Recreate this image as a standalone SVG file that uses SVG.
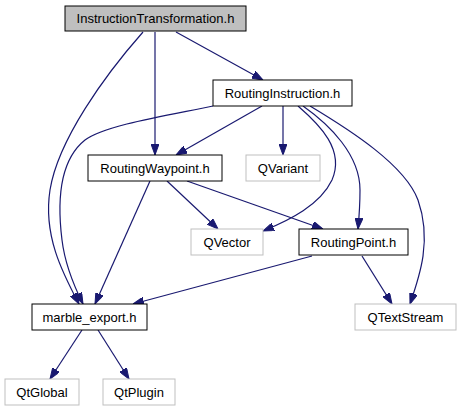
<svg xmlns="http://www.w3.org/2000/svg" width="461" height="411" viewBox="0 0 461 411">
<style>
.n rect{fill:#fff;stroke:#000;stroke-width:1}
.n.cur rect{fill:#bfbfbf}
.n.ext rect{stroke:#bfbfbf}
.n text{font-family:"Liberation Sans",Arial,sans-serif;font-size:13px;fill:#000;text-anchor:middle}
.e path{fill:none;stroke:#191970;stroke-width:1.2;marker-end:url(#ah)}
</style>
<defs>
<marker id="ah" viewBox="0 0 11 8" refX="11" refY="4" markerWidth="11" markerHeight="8" markerUnits="userSpaceOnUse" orient="auto">
<path d="M0,0 L11,4 L0,8 z" fill="#191970" stroke="#191970" stroke-width="1"/>
</marker>
</defs>
<rect width="461" height="411" fill="#fff"/>
<g id="edges" class="e">
<path d="M143,32 C105,75 58,140 50,190 C43,235 62,272 79,304"/>
<path d="M155,32 L155,155"/>
<path d="M176,32 L263,80"/>
<path d="M213,106 C170,115 105,125 85,140 C60,160 57,200 62,240 C65,265 74,286 83,304"/>
<path d="M262,106 L176,155"/>
<path d="M283,106 L283,155"/>
<path d="M298,106 C320,125 345,150 332,180 C320,205 290,220 263,231"/>
<path d="M303,106 C330,125 360,155 360,190 C360,205 359,218 358,229"/>
<path d="M310,106 C350,130 405,165 418,200 C432,240 420,275 410,304"/>
<path d="M150,181 L95,304"/>
<path d="M167,181 L218,229"/>
<path d="M187,181 L323,229"/>
<path d="M312,256 L133,304"/>
<path d="M362,256 L392,304"/>
<path d="M82,330 L50,379"/>
<path d="M98,330 L129,379"/>
</g>
<g id="InstructionTransformation" class="n cur"><rect x="65" y="6" width="181" height="25"/><text x="155.5" y="23">InstructionTransformation.h</text></g>
<g id="RoutingInstruction" class="n"><rect x="213" y="80" width="139" height="26"/><text x="282.5" y="97.5">RoutingInstruction.h</text></g>
<g id="RoutingWaypoint" class="n"><rect x="88" y="155" width="134" height="26"/><text x="155" y="172.5">RoutingWaypoint.h</text></g>
<g id="QVariant" class="n ext"><rect x="246" y="155" width="74" height="26"/><text x="283" y="172.5">QVariant</text></g>
<g id="QVector" class="n ext"><rect x="191" y="229" width="72" height="26"/><text x="227" y="246.5">QVector</text></g>
<g id="RoutingPoint" class="n"><rect x="299" y="229" width="109" height="26"/><text x="353.5" y="246.5">RoutingPoint.h</text></g>
<g id="marble_export" class="n"><rect x="32" y="304" width="115" height="26"/><text x="89.5" y="321.5">marble_export.h</text></g>
<g id="QTextStream" class="n ext"><rect x="355" y="304" width="101" height="26"/><text x="405.5" y="321.5">QTextStream</text></g>
<g id="QtGlobal" class="n ext"><rect x="5" y="379" width="74" height="26"/><text x="42" y="396.5">QtGlobal</text></g>
<g id="QtPlugin" class="n ext"><rect x="103" y="379" width="72" height="26"/><text x="139" y="396.5">QtPlugin</text></g>
</svg>
